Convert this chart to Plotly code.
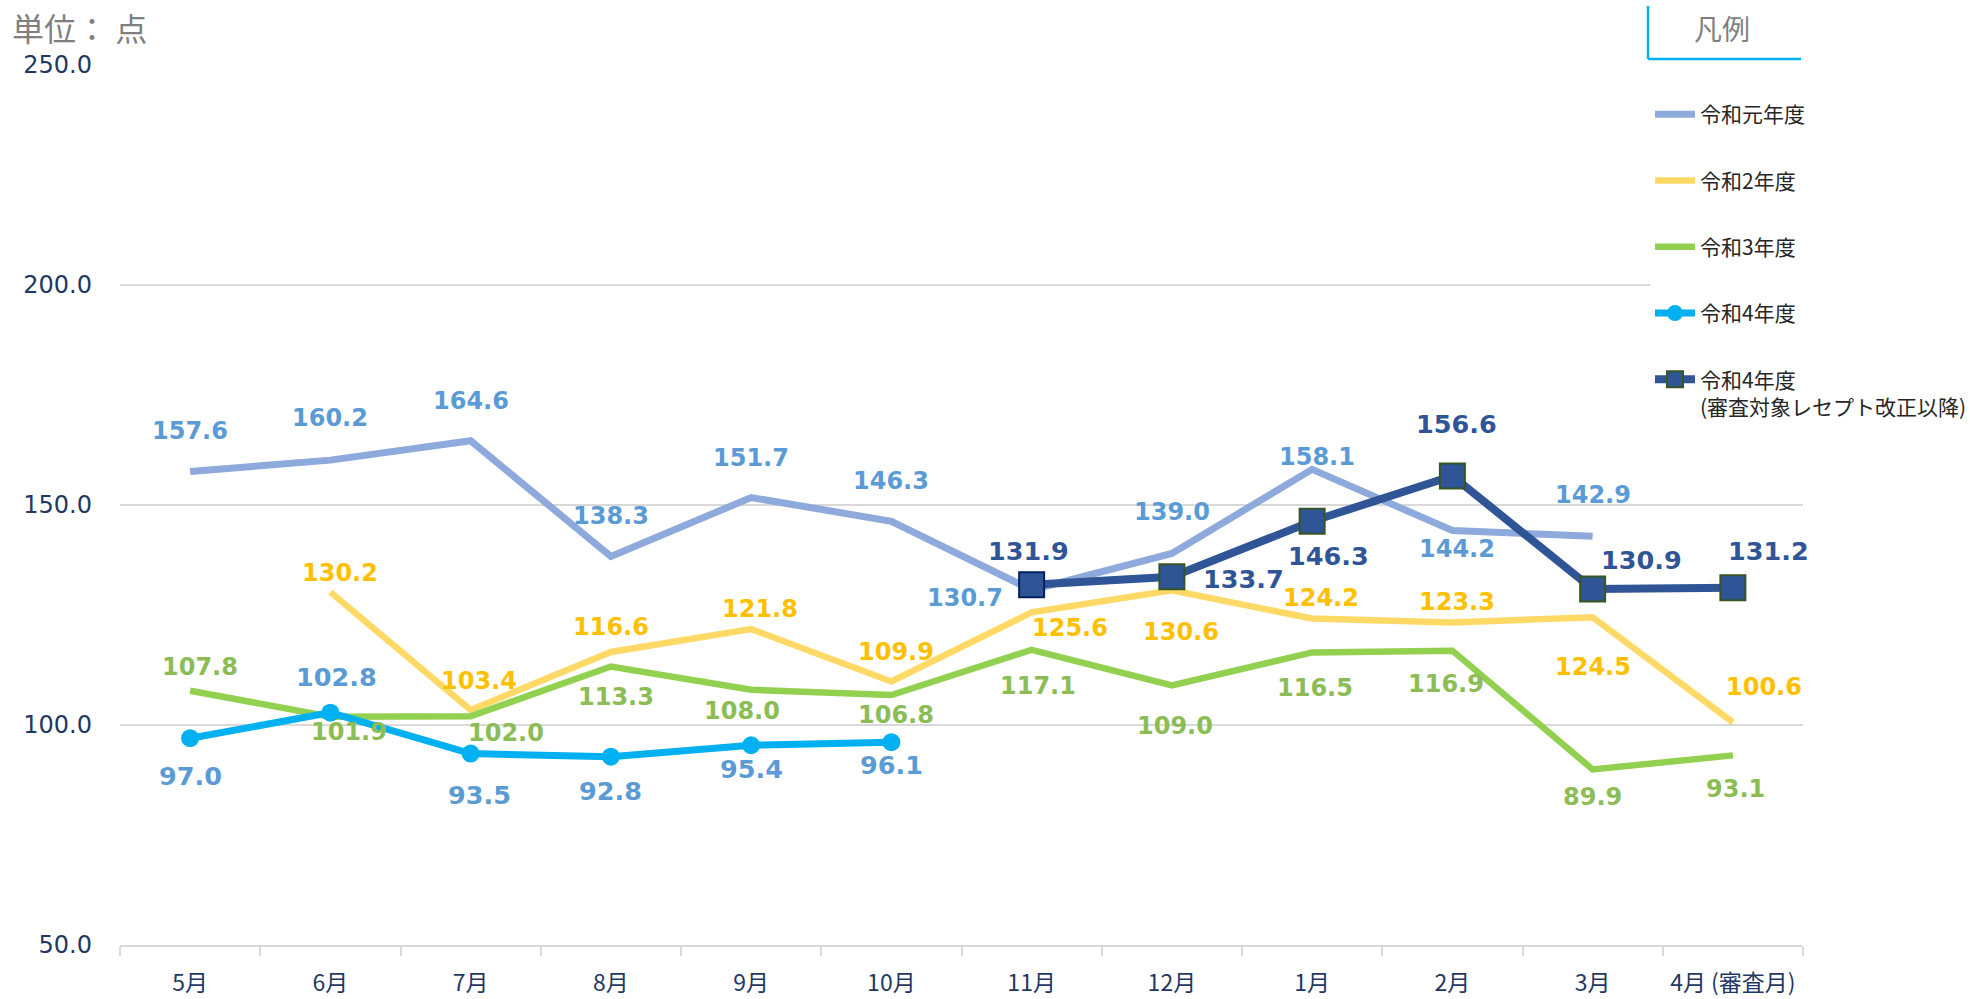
import plotly.graph_objects as go

# ---------------- data ----------------
months = ["5月", "6月", "7月", "8月", "9月", "10月", "11月", "12月", "1月", "2月", "3月", "4月 (審査月)"]
r1 = [157.6, 160.2, 164.6, 138.3, 151.7, 146.3, 130.7, 139.0, 158.1, 144.2, 142.9, None]
r2 = [None, 130.2, 103.4, 116.6, 121.8, 109.9, 125.6, 130.6, 124.2, 123.3, 124.5, 100.6]
r3 = [107.8, 101.9, 102.0, 113.3, 108.0, 106.8, 117.1, 109.0, 116.5, 116.9, 89.9, 93.1]
r4 = [97.0, 102.8, 93.5, 92.8, 95.4, 96.1, None, None, None, None, None, None]
r4_rev = [None, None, None, None, None, None, 131.9, 133.7, 146.3, 156.6, 130.9, 131.2]

names = ["令和元年度", "令和2年度", "令和3年度", "令和4年度", "令和4年度<br>(審査対象レセプト改正以降)"]
yticks = [50, 100, 150, 200, 250]

# ---------------- label offsets (px: dx right, dy down) ----------------
off_r1 = [(0, -41), (0, -42), (0, -40), (0, -40), (0, -40), (0, -40), (-67, 8), (0, -41), (5, -12), (5, 18), (0, -41), None]
off_r2 = [None, (10, -19), (8, -29), (0, -25), (9, -20), (5, -29), (38, 16), (9, 42), (9, -21), (5, -20), (0, 50), (31, -35)]
off_r3 = [(10, -24), (19, 15), (35, 17), (5, 31), (-9, 21), (5, 20), (6, 36), (3, 41), (3, 36), (-6, 33), (0, 28), (3, 34)]
off_r4 = [(0, 38), (6, -36), (9, 41), (0, 34), (0, 24), (0, 23), None, None, None, None, None, None]
off_r4r = [None, None, None, None, None, None, (-3, -34), (72, 2), (16, 35), (4, -52), (49, -29), (36, -37)]

fig = go.Figure()

fig.add_trace(go.Scatter(x=months, y=r1, name=names[0], mode="lines",
                         line=dict(color="#8EA9DB", width=7), legendgroup="a"))
fig.add_trace(go.Scatter(x=months, y=r2, name=names[1], mode="lines",
                         line=dict(color="#FFD966", width=6.5), legendgroup="b"))
fig.add_trace(go.Scatter(x=months, y=r3, name=names[2], mode="lines",
                         line=dict(color="#92D050", width=6.5), legendgroup="c"))
fig.add_trace(go.Scatter(x=months, y=r4, name=names[3], mode="lines+markers",
                         line=dict(color="#00B0F0", width=7),
                         marker=dict(symbol="circle", size=18, color="#00B0F0"), legendgroup="d"))
outline = ["#002060" if i == 6 else "#375623" for i in range(len(months))]
fig.add_trace(go.Scatter(x=months, y=r4_rev, name=names[4], mode="lines+markers",
                         line=dict(color="#2F5597", width=8),
                         marker=dict(symbol="square", size=25, color="#2F5597",
                                     line=dict(color=outline, width=2)), legendgroup="e"))

label_font = "DejaVu Sans, Verdana, sans-serif"
series = [
    (r1, off_r1, "#5B9BD5", 24),
    (r2, off_r2, "#FFC000", 24),
    (r3, off_r3, "#8CBD55", 24),
    (r4, off_r4, "#5B9BD5", 25.5),
    (r4_rev, off_r4r, "#2F5597", 25.5),
]
for vals, offs, col, fs in series:
    for m, v, o in zip(months, vals, offs):
        if v is None or o is None:
            continue
        fig.add_annotation(x=m, y=v, text=f"{v:.1f}", showarrow=False,
                           xshift=o[0], yshift=-o[1],
                           font=dict(family=label_font, size=fs, color=col, weight="bold"))

# geometry helpers (pixel -> paper)
L, R, T, B = 120, 167, 65, 54
W, H = 1970, 999
pw, ph = W - L - R, H - T - B


def px(x):
    return (x - L) / pw


def py(y):
    return (H - B - y) / ph


# unit label
fig.add_annotation(xref="paper", yref="paper", x=px(10), y=py(27), xanchor="left", yanchor="middle",
                   text="単位： 点", showarrow=False,
                   font=dict(family="Noto Sans CJK JP", size=32, color="#7F7F7F"))
# legend header
fig.add_annotation(xref="paper", yref="paper", x=px(1722), y=py(28), xanchor="center", yanchor="middle",
                   text="凡例", showarrow=False,
                   font=dict(family="Noto Sans CJK JP", size=28, color="#7F7F7F"))
fig.add_shape(type="line", xref="paper", yref="paper", x0=px(1648), x1=px(1648), y0=py(6), y1=py(59),
              line=dict(color="#00B0F0", width=2.5))
fig.add_shape(type="line", xref="paper", yref="paper", x0=px(1648), x1=px(1801), y0=py(59), y1=py(59),
              line=dict(color="#00B0F0", width=2.5))

fig.update_layout(
    width=W, height=H,
    margin=dict(l=L, r=R, t=T, b=B, autoexpand=False),
    plot_bgcolor="white", paper_bgcolor="white",
    showlegend=True,
    legend=dict(x=px(1650), y=py(94), xanchor="left", yanchor="top",
                bgcolor="white", tracegroupgap=36, valign="top",
                font=dict(family="Noto Sans CJK JP", size=21, color="#262626"),
                itemwidth=40),
    xaxis=dict(type="category", categoryorder="array", categoryarray=months,
               range=[-0.5, 11.5], showgrid=False, showline=True, linecolor="#D9D9D9", linewidth=2,
               ticks="outside", tickson="boundaries", ticklen=9, tickcolor="#D9D9D9", tickwidth=1.5,
               ticklabelstandoff=16, automargin=False, tickangle=0,
               tickfont=dict(family="Noto Sans CJK JP", size=23, color="#1F3864")),
    yaxis=dict(range=[50, 250], tickvals=yticks, tickformat=".1f", showgrid=True,
               gridcolor="#D9D9D9", gridwidth=1.5, zeroline=False, showline=False,
               ticklabelstandoff=27, automargin=False,
               tickfont=dict(family="DejaVu Sans, Verdana, sans-serif", size=24, color="#1F3864")),
)

fig.write_html("out.html", config={"displayModeBar": False},
               post_script="document.body.style.margin='0';document.body.style.overflow='hidden';")
